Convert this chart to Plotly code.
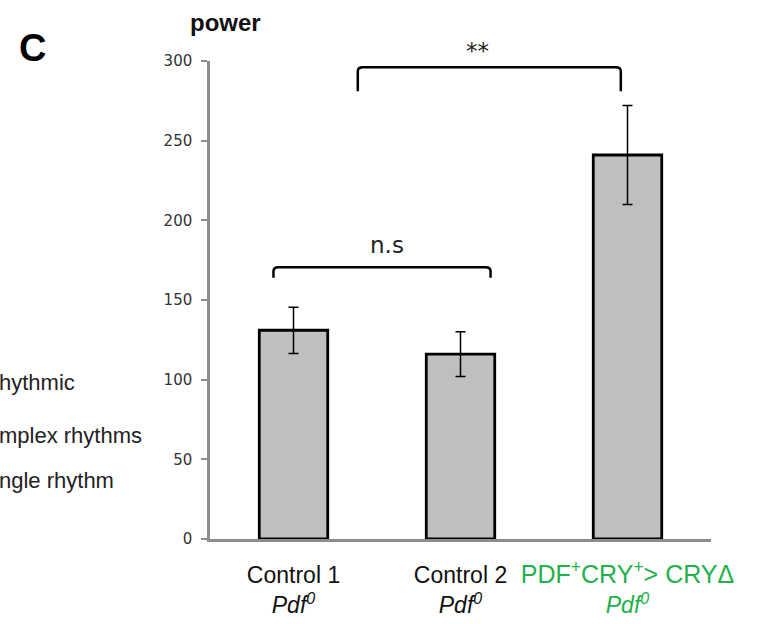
import plotly.graph_objects as go

# ---- data ----
categories = ["Control 1", "Control 2", "PDF<sup>+</sup>CRY<sup>+</sup>> CRYΔ"]
genotype = "Pdf<sup>0</sup>"
power_mean = [131, 116, 241]
power_err = [14.5, 14, 31]
y_ticks = [0, 50, 100, 150, 200, 250, 300]
label_colors = ["#111111", "#111111", "#22B14C"]
label_sizes = [23, 23, 25]
legend_fragments = ["hythmic", "mplex rhythms", "ngle rhythm"]

x_pos = list(range(len(categories)))

tick_text = [
    f"<span style='color:{c}'><span style='font-size:{s}px'>{cat}</span><br><i>{genotype}</i></span>"
    for cat, c, s in zip(categories, label_colors, label_sizes)
]

fig = go.Figure()
fig.add_trace(go.Bar(
    x=x_pos, y=power_mean,
    marker=dict(color="#BFBFBF", line=dict(color="#000000", width=2.8)),
    error_y=dict(type="data", array=power_err, color="#000000", thickness=1.5, width=5),
    width=0.41,
))


# significance brackets
def bracket(x0, x1, ytop, ybot, dx=0.03, dy=2.5):
    return (f"M {x0},{ybot} L {x0},{ytop-dy} Q {x0},{ytop} {x0+dx},{ytop} "
            f"L {x1-dx},{ytop} Q {x1},{ytop} {x1},{ytop-dy} L {x1},{ybot}")


shapes = [
    dict(type="path", xref="x", yref="y", path=bracket(-0.12, 1.18, 170.5, 164),
         line=dict(color="#000000", width=2.5)),
    dict(type="path", xref="x", yref="y", path=bracket(0.385, 1.96, 296, 281),
         line=dict(color="#000000", width=2.5)),
]

W, H = 780, 624
L, R, T, B = 210, 69, 61, 85
pw, ph = W - L - R, H - T - B


def px(xp):
    return (xp - L) / pw


def py(yp):
    return (H - B - yp) / ph


annotations = [
    dict(x=px(387), y=py(245), xref="paper", yref="paper", text="n.s", showarrow=False,
         xanchor="center", yanchor="middle",
         font=dict(family="DejaVu Sans", size=23, color="#222222")),
    dict(x=px(477), y=py(51), xref="paper", yref="paper", text="**", showarrow=False,
         xanchor="center", yanchor="middle",
         font=dict(family="DejaVu Sans", size=23, color="#222222")),
    dict(x=px(225), y=py(23), xref="paper", yref="paper", text="<b>power</b>", showarrow=False,
         xanchor="center", yanchor="middle",
         font=dict(family="Liberation Sans", size=24, color="#111111")),
    dict(x=px(32), y=py(48), xref="paper", yref="paper", text="<b>C</b>", showarrow=False,
         xanchor="center", yanchor="middle",
         font=dict(family="Liberation Sans", size=38, color="#000000")),
]
frag_pos = [(-3, 383), (-3, 435), (-3, 480)]
for txt, (xl, yc) in zip(legend_fragments, frag_pos):
    annotations.append(dict(x=px(xl), y=py(yc), xref="paper", yref="paper", text=txt,
                            showarrow=False, xanchor="left", yanchor="middle",
                            font=dict(family="Liberation Sans", size=22, color="#222222")))

fig.update_layout(
    width=W, height=H,
    margin=dict(l=L, r=R, t=T, b=B, pad=0, autoexpand=False),
    paper_bgcolor="#ffffff", plot_bgcolor="#ffffff",
    showlegend=False,
    shapes=shapes,
    annotations=annotations,
    xaxis=dict(range=[-0.5, 2.5], tickvals=x_pos, ticktext=tick_text,
               showline=True, linecolor="#8C8C8C", linewidth=2.5, ticks="",
               showgrid=False, zeroline=False, ticklabelstandoff=14, automargin=False,
               tickfont=dict(family="Liberation Sans", size=23, color="#111111")),
    yaxis=dict(range=[0, 300], tickvals=y_ticks, showline=True, linecolor="#8C8C8C",
               linewidth=2.5, ticks="outside", ticklen=6, tickwidth=2, tickcolor="#8C8C8C",
               showgrid=False, zeroline=False, ticklabelstandoff=6, automargin=False,
               tickfont=dict(family="DejaVu Sans", size=15, color="#333333")),
)

fig.write_html("out.html")
